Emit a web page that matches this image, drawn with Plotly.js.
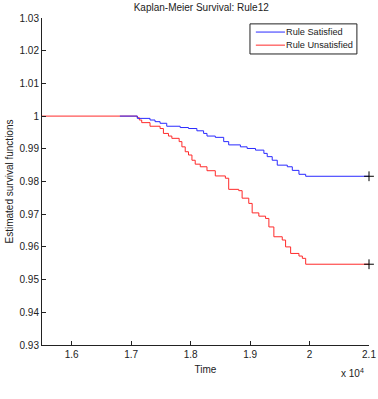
<!DOCTYPE html>
<html><head><meta charset="utf-8">
<script src="https://cdn.plot.ly/plotly-3.0.1.min.js"></script>
<style>html,body{margin:0;padding:0;background:#fff}#c{width:378px;height:399px}</style>
</head><body><div id="c"></div>
<script>
// Rule Satisfied (step curve)
const satTime = [16810, 17103, 17317, 17401, 17486, 17598, 17824, 17964, 18105, 18218, 18275, 18415, 18556, 18640, 18837, 18950, 19091, 19232, 19288, 19372, 19457, 19626, 19710, 19822, 19935, 21000];
const satSurv = [1.0, 0.9993, 0.9988, 0.9983, 0.9978, 0.9969, 0.9965, 0.9962, 0.9955, 0.9947, 0.9939, 0.9935, 0.9922, 0.9912, 0.9906, 0.9901, 0.9896, 0.9886, 0.9876, 0.9865, 0.9850, 0.9845, 0.9834, 0.9822, 0.9816, 0.9816];
// Rule Unsatisfied (step curve)
const unsTime = [15400, 17103, 17137, 17177, 17317, 17486, 17542, 17627, 17684, 17807, 17853, 17909, 17964, 18022, 18077, 18162, 18275, 18415, 18584, 18640, 18809, 18866, 18978, 19035, 19147, 19260, 19316, 19400, 19541, 19597, 19682, 19822, 19879, 19935, 21000];
const unsSurv = [1.0, 0.9995, 0.9988, 0.9980, 0.9969, 0.9962, 0.9947, 0.9939, 0.9932, 0.9922, 0.9906, 0.9891, 0.9881, 0.9865, 0.9853, 0.9845, 0.9833, 0.9817, 0.9810, 0.9776, 0.9772, 0.9749, 0.9733, 0.9704, 0.9694, 0.9687, 0.9661, 0.9631, 0.9621, 0.9600, 0.9580, 0.9572, 0.9565, 0.9547, 0.9547];
// censoring marks
const censTime = [21000, 21000];
const censSurv = [0.9816, 0.9547];

const seriesNames = ['Rule Satisfied', 'Rule Unsatisfied'];
const seriesColors = ['#2a2aff', '#ff2a2a'];

const xTickVals = [16000, 17000, 18000, 19000, 20000, 21000];
const xTickText = ['1.6', '1.7', '1.8', '1.9', '2', '2.1'];
const yTickVals = [0.93, 0.94, 0.95, 0.96, 0.97, 0.98, 0.99, 1.0, 1.01, 1.02, 1.03];
const yTickText = ['0.93', '0.94', '0.95', '0.96', '0.97', '0.98', '0.99', '1', '1.01', '1.02', '1.03'];

const FF = 'Liberation Sans, Arial, sans-serif';
const font = {family: FF, size: 10, color: '#222'};

const traces = [
  {x: unsTime, y: unsSurv, mode: 'lines', line: {shape: 'hv', color: seriesColors[1], width: 1}, name: seriesNames[1], showlegend: false},
  {x: satTime, y: satSurv, mode: 'lines', line: {shape: 'hv', color: seriesColors[0], width: 1}, name: seriesNames[0], showlegend: false},
  {x: censTime, y: censSurv, mode: 'markers', marker: {symbol: 'cross-thin', size: 7, line: {color: '#000', width: 1}}, showlegend: false, cliponaxis: false}
];

// custom compact legend (MATLAB style)
const lg = {x0: 0.636, x1: 0.963, y0: 0.890, y1: 0.982, lx0: 0.654, lx1: 0.743, tx: 0.744, rows: [0.957, 0.917]};
const shapes = [{type: 'rect', xref: 'paper', yref: 'paper', x0: lg.x0, x1: lg.x1, y0: lg.y0, y1: lg.y1, line: {color: '#222', width: 1}, fillcolor: '#fff', layer: 'above'}];
const annotations = [{xref: 'paper', yref: 'paper', x: 0.99, y: -0.06, xanchor: 'right', yanchor: 'top', showarrow: false,
    text: 'x 10<sup>4</sup>', font: {family: FF, size: 10, color: '#222'}}];
seriesNames.forEach((n, i) => {
  shapes.push({type: 'line', xref: 'paper', yref: 'paper', x0: lg.lx0, x1: lg.lx1, y0: lg.rows[i], y1: lg.rows[i], line: {color: seriesColors[i], width: 1}, layer: 'above'});
  annotations.push({xref: 'paper', yref: 'paper', x: lg.tx, y: lg.rows[i], xanchor: 'left', yanchor: 'middle', showarrow: false,
    text: n, font: {family: FF, size: 9.2, color: '#222'}, borderpad: 0});
});

const layout = {
  width: 378, height: 399,
  margin: {l: 42, r: 9, t: 18, b: 54},
  paper_bgcolor: '#fff', plot_bgcolor: '#fff',
  font: font,
  title: {text: 'Kaplan-Meier Survival: Rule12', xref: 'paper', x: 0.487, xanchor: 'center', yref: 'container', y: 0.98, yanchor: 'middle', font: {family: FF, size: 10, color: '#222'}},
  xaxis: {range: [15500, 21000], tickvals: xTickVals, ticktext: xTickText, ticks: 'inside', ticklen: 4, tickcolor: '#222',
    showline: true, linecolor: '#222', linewidth: 1, showgrid: false, zeroline: false, mirror: false,
    title: {text: 'Time', font: {family: FF, size: 10, color: '#222'}, standoff: 6}, tickfont: font},
  yaxis: {range: [0.93, 1.03], tickvals: yTickVals, ticktext: yTickText, ticks: 'inside', ticklen: 4, tickcolor: '#222',
    showline: true, linecolor: '#222', linewidth: 1, showgrid: false, zeroline: false, mirror: false,
    title: {text: 'Estimated survival functions', font: {family: FF, size: 10, color: '#222'}, standoff: 4}, tickfont: font},
  shapes: shapes,
  annotations: annotations,
  showlegend: false
};
Plotly.newPlot('c', traces, layout, {displayModeBar: false, staticPlot: true});
</script></body></html>
